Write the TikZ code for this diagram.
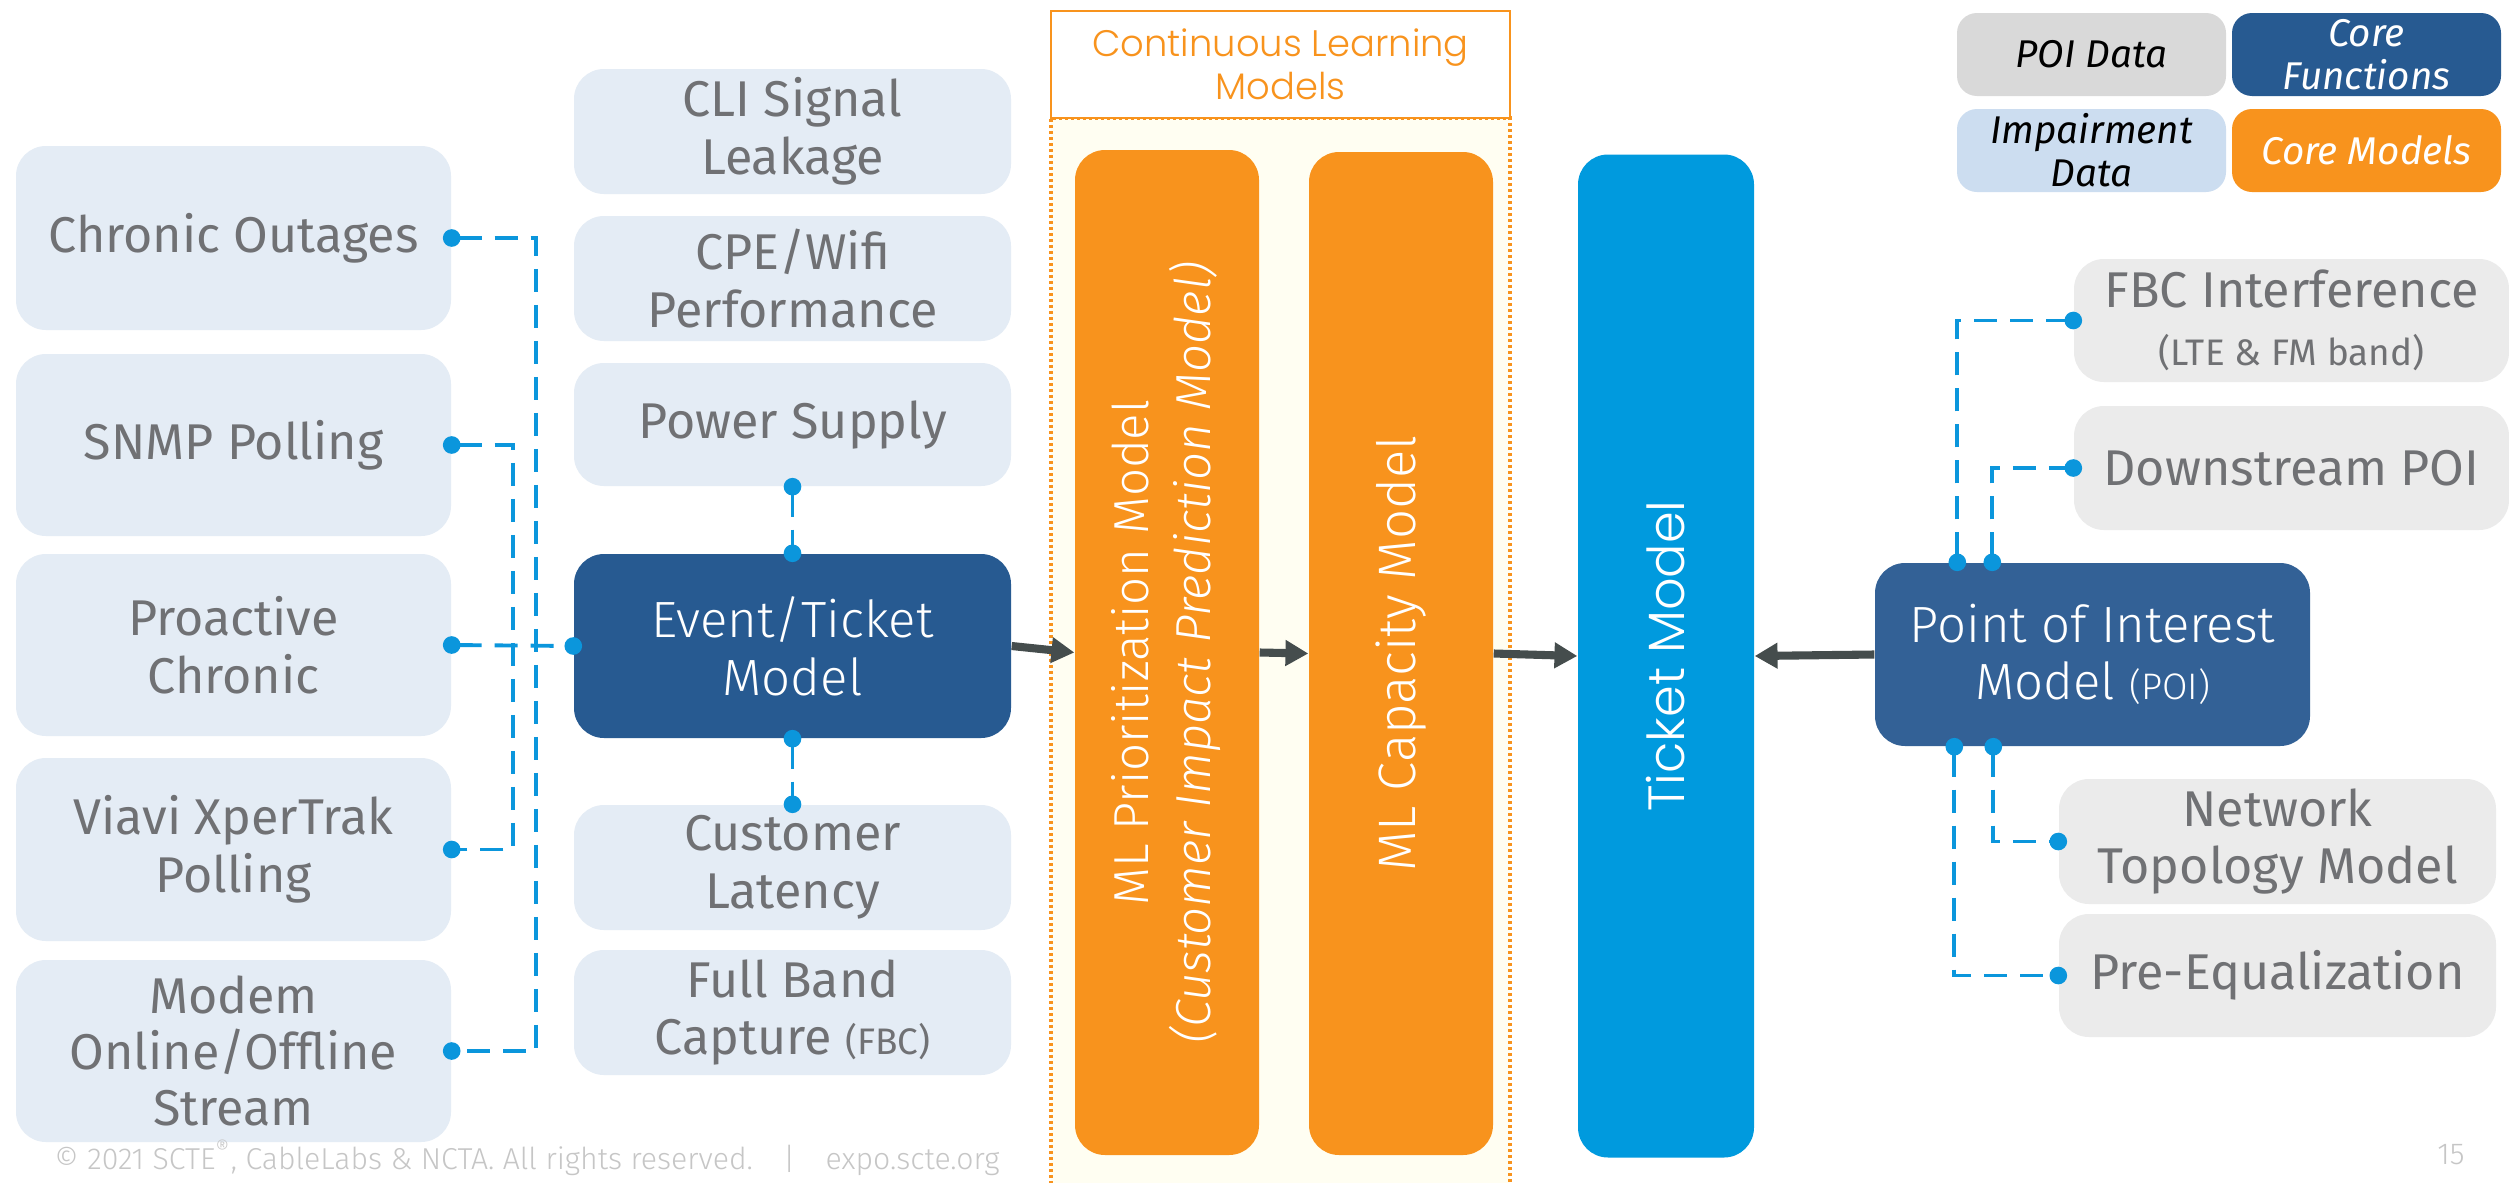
\documentclass[tikz,border=0pt]{standalone}
\usepackage{fontspec}
\setmainfont{Fira Sans}
\newfontfamily\thinfont{Fira Sans}[UprightFont=* Light,ItalicFont=* Light Italic]
\newfontfamily\geofont{Poppins}[UprightFont=* Light]
\usetikzlibrary{arrows.meta}
\definecolor{impblue}{HTML}{E4ECF5}
\definecolor{poigray}{HTML}{EBEBEB}
\definecolor{legpoigray}{HTML}{D9D9D9}
\definecolor{leglightblue}{HTML}{CCDDF0}
\definecolor{coreblue}{HTML}{275A91}
\definecolor{poiblue}{HTML}{336196}
\definecolor{coreorange}{HTML}{F8931D}
\definecolor{ticketblue}{HTML}{009ADE}
\definecolor{clmyellow}{HTML}{FFFEF2}
\definecolor{linkblue}{HTML}{0B96DC}
\definecolor{flowgray}{HTML}{454D4D}
\definecolor{txtgray}{HTML}{707174}
\definecolor{footgray}{HTML}{C6C6C6}
\tikzset{>={Triangle[length=6.5pt,width=7pt]}}
\tikzset{
  box/.style={rounded corners=3mm,inner sep=0.3mm,align=center},
  imp/.style={box,fill=impblue,text=txtgray,font=\fontsize{14.3}{16.4}\selectfont},
  poidat/.style={box,fill=poigray,text=txtgray,font=\fontsize{14.3}{16.4}\selectfont},
  corefn/.style={box,text=white,font=\thinfont\fontsize{14.5}{16.4}\selectfont},
  coremod/.style={box,fill=coreorange,text=white,font=\thinfont\fontsize{14}{17.8}\selectfont},
  legend/.style={box,rounded corners=2mm,minimum width=26.9mm,minimum height=8.3mm,font=\fontsize{11}{12.3}\selectfont\itshape},
  link/.style={draw=linkblue,line width=1.1pt,dash pattern=on 2.3mm off 1.3mm,{Circle[length=5pt]}-{Circle[length=5pt]},shorten <=-2.5pt,shorten >=-2.5pt},
  flow/.style={draw=flowgray,line width=2.3pt,->}
}

\begin{document}
\begin{tikzpicture}[x=0.1mm,y=-0.1mm]
	\useasboundingbox (0,0) rectangle (2509,1182);
	\fill[white] (0,0) rectangle (2509,1182);
	% continuous learning area
	\fill[clmyellow] (1051,118) rectangle (1510,1190);
	\draw[coreorange,line width=1.4pt,dash pattern=on 0.35mm off 0.25mm] (1051,1190) |- (1510,118) -- (1510,1190);
	\node[draw=coreorange,line width=0.6pt,fill=white,minimum width=45.9mm,minimum height=10.7mm,text=coreorange,align=center,font=\geofont\fontsize{10.5}{12.2}\selectfont] (clmlabel) at (1280.5,64.5) {Continuous Learning\\Models};

	% legend
	\node[legend,fill=legpoigray] (legpoi) at (2091.5,54.5) {POI Data};
	\node[legend,fill=coreblue,text=white] (legcore) at (2366.5,54.5) {Core\\Functions};
	\node[legend,fill=leglightblue] (legimp) at (2091.5,150.5) {Impairment\\Data};
	\node[legend,fill=coreorange,text=white] (legmodels) at (2366.5,150.5) {Core Models};

	% impairment data
	\node[imp,minimum width=43.5mm,minimum height=18.4mm] (chronic) at (233.5,238) {Chronic Outages};
	\node[imp,minimum width=43.5mm,minimum height=18.2mm] (snmp) at (233.5,445) {SNMP Polling};
	\node[imp,minimum width=43.5mm,minimum height=18.2mm] (proactive) at (233.5,645) {Proactive\\Chronic};
	\node[imp,minimum width=43.5mm,minimum height=18.3mm] (viavi) at (233.5,849.5) {Viavi XperTrak\\Polling};
	\node[imp,minimum width=43.5mm,minimum height=18.2mm,font=\fontsize{14.3}{16}\selectfont] (modem) at (233.5,1051) {Modem\\Online/Offline\\Stream};

	\node[imp,minimum width=43.7mm,minimum height=12.5mm] (cli) at (792.5,131.5) {CLI Signal\\Leakage};
	\node[imp,minimum width=43.7mm,minimum height=12.5mm] (cpe) at (792.5,278.5) {CPE/Wifi\\Performance};
	\node[imp,minimum width=43.7mm,minimum height=12.3mm] (power) at (792.5,424.5) {Power Supply};
	\node[corefn,fill=coreblue,minimum width=43.7mm,minimum height=18.4mm] (event) at (792.5,646) {Event/Ticket\\Model};
	\node[imp,minimum width=43.7mm,minimum height=12.5mm] (latency) at (792.5,867.5) {Customer\\Latency};
	\node[imp,minimum width=43.7mm,minimum height=12.5mm] (fbc) at (792.5,1012.5) {Full Band\\Capture {\fontsize{10.5}{12}\selectfont(FBC)}};

	% core models
	\node[coremod,minimum width=18.4mm,minimum height=100.5mm] (mlprio) at (1167,652.5) {\rotatebox{90}{\begin{tabular}{@{}c@{}}ML Prioritization Model\\\textit{(Customer Impact Prediction Model)}\end{tabular}}};
	\node[coremod,minimum width=18.4mm,minimum height=100.3mm,font=\thinfont\fontsize{15}{18}\selectfont] (mlcap) at (1401,653.5) {\rotatebox{90}{ML Capacity Model}};
	\node[box,fill=ticketblue,text=white,minimum width=17.6mm,minimum height=100.3mm,font=\geofont\fontsize{14.5}{17}\selectfont] (ticket) at (1666,656) {\rotatebox{90}{Ticket Model}};

	% POI data
	\node[corefn,fill=poiblue,minimum width=43.5mm,minimum height=18.3mm] (poi) at (2092.5,654.5) {Point of Interest\\Model {\fontsize{10.5}{12}\selectfont(POI)}};
	\node[poidat,minimum width=43.5mm,minimum height=12.3mm] (fbcint) at (2291.5,320.5) {FBC Interference\\{\fontsize{10.5}{13}\selectfont(LTE \& FM band)}};
	\node[poidat,minimum width=43.5mm,minimum height=12.4mm] (downstream) at (2291.5,468) {Downstream POI};
	\node[poidat,minimum width=43.7mm,minimum height=12.5mm] (topology) at (2277.5,841.5) {Network\\Topology Model};
	\node[poidat,minimum width=43.7mm,minimum height=12.3mm] (preeq) at (2277.5,975.5) {Pre-Equalization};

	% links
	\draw[link] (chronic.east) -- ++(8.4mm,0) |- (modem.east);
	\draw[link] (snmp.east) -- ++(6.1mm,0) |- (viavi.east);
	\draw[link] (proactive.east) -- (event.west);
	\draw[link] (power.south) -- (event.north);
	\draw[link] (event.south) -- (latency.north);
	\draw[link] ([xshift=8.3mm]poi.north west) |- (fbcint.west);
	\draw[link] ([xshift=11.8mm]poi.north west) |- (downstream.west);
	\draw[link] ([xshift=8mm]poi.south west) |- (preeq.west);
	\draw[link] ([xshift=11.9mm]poi.south west) |- (topology.west);

	% flows
	\draw[flow] (event.east) -- (mlprio.west);
	\draw[flow] (mlprio.east) -- (mlcap.west);
	\draw[flow] (mlcap.east) -- (ticket.west);
	\draw[flow] (poi.west) -- (ticket.east);

	\node[anchor=west,text=footgray,font=\thinfont\fontsize{8.6}{10}\selectfont] (footer) at (42,1158) {© 2021 SCTE\textsuperscript{®}, CableLabs \& NCTA. All rights reserved.\quad|\quad expo.scte.org};
	\node[text=footgray,font=\thinfont\fontsize{8.6}{10}\selectfont] (pagenum) at (2451,1155) {15};
\end{tikzpicture}
\end{document}
